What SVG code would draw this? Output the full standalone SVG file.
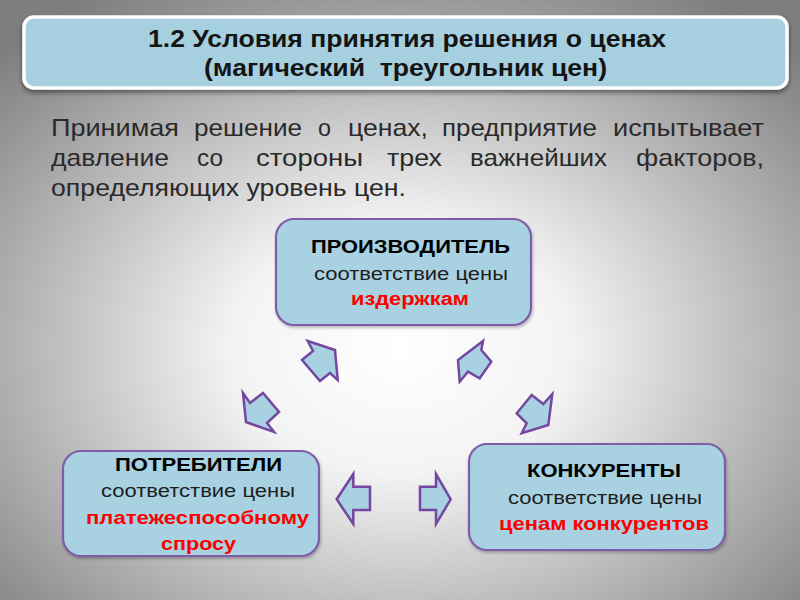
<svg xmlns="http://www.w3.org/2000/svg" width="800" height="600" viewBox="0 0 800 600">
<defs>
<radialGradient id="bg" cx="50%" cy="58%" r="70%">
<stop offset="0" stop-color="#ffffff"/>
<stop offset="0.3" stop-color="#f3f3f3"/>
<stop offset="1" stop-color="#7e7e7e"/>
</radialGradient>
<filter id="sh" x="-5%" y="-20%" width="110%" height="150%">
<feDropShadow dx="0" dy="3" stdDeviation="2.5" flood-color="#000" flood-opacity="0.45"/>
</filter>
<filter id="sh2" x="-10%" y="-10%" width="120%" height="130%">
<feDropShadow dx="1" dy="2" stdDeviation="1.5" flood-color="#000" flood-opacity="0.25"/>
</filter>
<style>
text{font-family:"Liberation Sans",Arial,sans-serif}
.title{font-size:24px;font-weight:bold;fill:#141414}
.body{font-size:24px;fill:#2a2a2a}
.node{fill:#a8d1e1;stroke:#7f5ca8;stroke-width:2.2}
.h{font-size:19px;font-weight:bold;fill:#000}
.n{font-size:18px;fill:#1e1e1e}
.r{font-size:18px;font-weight:bold;fill:#ff0000}
.arr{fill:#a8d1e1;stroke:#7447a0;stroke-width:2.5;stroke-linejoin:miter}
</style>
</defs>
<rect width="800" height="600" fill="url(#bg)"/>

<g id="title">
<rect x="24" y="17" width="763" height="71" rx="10" fill="#a6cfdf" stroke="#ffffff" stroke-width="3.5" filter="url(#sh)"/>
<text class="title" x="148" y="47" textLength="518" lengthAdjust="spacingAndGlyphs">1.2 Условия принятия решения о ценах</text>
<text class="title" x="204" y="76" textLength="403" lengthAdjust="spacingAndGlyphs" xml:space="preserve">(магический  треугольник цен)</text>
</g>

<g id="intro" class="body">
<text class="body" x="51" y="136" textLength="128" lengthAdjust="spacingAndGlyphs">Принимая</text>
<text class="body" x="194" y="136" textLength="108" lengthAdjust="spacingAndGlyphs">решение</text>
<text class="body" x="318" y="136" textLength="13" lengthAdjust="spacingAndGlyphs">о</text>
<text class="body" x="348" y="136" textLength="80" lengthAdjust="spacingAndGlyphs">ценах,</text>
<text class="body" x="442" y="136" textLength="155" lengthAdjust="spacingAndGlyphs">предприятие</text>
<text class="body" x="613" y="136" textLength="151" lengthAdjust="spacingAndGlyphs">испытывает</text>
<text class="body" x="51" y="166" textLength="118" lengthAdjust="spacingAndGlyphs">давление</text>
<text class="body" x="197" y="166" textLength="26" lengthAdjust="spacingAndGlyphs">со</text>
<text class="body" x="256" y="166" textLength="107" lengthAdjust="spacingAndGlyphs">стороны</text>
<text class="body" x="387" y="166" textLength="55" lengthAdjust="spacingAndGlyphs">трех</text>
<text class="body" x="470" y="166" textLength="137" lengthAdjust="spacingAndGlyphs">важнейших</text>
<text class="body" x="636" y="166" textLength="128" lengthAdjust="spacingAndGlyphs">факторов,</text>
<text class="body" x="51" y="196" textLength="355" lengthAdjust="spacingAndGlyphs">определяющих уровень цен.</text>
</g>

<g id="producer">
<rect class="node" x="276" y="219" width="255" height="106" rx="18" filter="url(#sh2)"/>
<text class="h" x="311" y="253" textLength="199" lengthAdjust="spacingAndGlyphs">ПРОИЗВОДИТЕЛЬ</text>
<text class="n" x="314" y="280" textLength="194" lengthAdjust="spacingAndGlyphs">соответствие цены</text>
<text class="r" x="351" y="305" textLength="118" lengthAdjust="spacingAndGlyphs">издержкам</text>
</g>

<g id="consumers">
<rect class="node" x="63" y="451" width="256" height="105" rx="18" filter="url(#sh2)"/>
<text class="h" x="115" y="471" textLength="167" lengthAdjust="spacingAndGlyphs">ПОТРЕБИТЕЛИ</text>
<text class="n" x="101" y="497" textLength="194" lengthAdjust="spacingAndGlyphs">соответствие цены</text>
<text class="r" x="86" y="524" textLength="223" lengthAdjust="spacingAndGlyphs">платежеспособному</text>
<text class="r" x="161" y="550" textLength="75" lengthAdjust="spacingAndGlyphs">спросу</text>
</g>

<g id="competitors">
<rect class="node" x="469" y="444" width="256" height="106" rx="18" filter="url(#sh2)"/>
<text class="h" x="527" y="477" textLength="154" lengthAdjust="spacingAndGlyphs">КОНКУРЕНТЫ</text>
<text class="n" x="508" y="504" textLength="194" lengthAdjust="spacingAndGlyphs">соответствие цены</text>
<text class="r" x="499" y="530" textLength="210" lengthAdjust="spacingAndGlyphs">ценам конкурентов</text>
</g>

<g id="connectors">
<polygon class="arr" points="307.7,341 313,351 302,360 320,381 330,373 337.7,380 335,350"/>
<polygon class="arr" points="483,341 481.3,350 491.3,361.7 479.7,378.3 468,371.7 459.7,381.7 458,360"/>
<polygon class="arr" points="531.7,395 543.3,404 552.3,394 548.3,425 521.7,433.3 526.7,423.3 516.7,413.3"/>
<polygon class="arr" points="243,393 250,403 263,393 279,412 267,423 274,432 246,422"/>
<polygon class="arr" points="336.7,499.3 353.3,474 353.3,486.7 370,486.7 370,510 353.3,510 353.3,524"/>
<polygon class="arr" points="450.7,499.3 436,474 436,486.7 420,486.7 420,510 436,510 436,524"/>
</g>
</svg>
